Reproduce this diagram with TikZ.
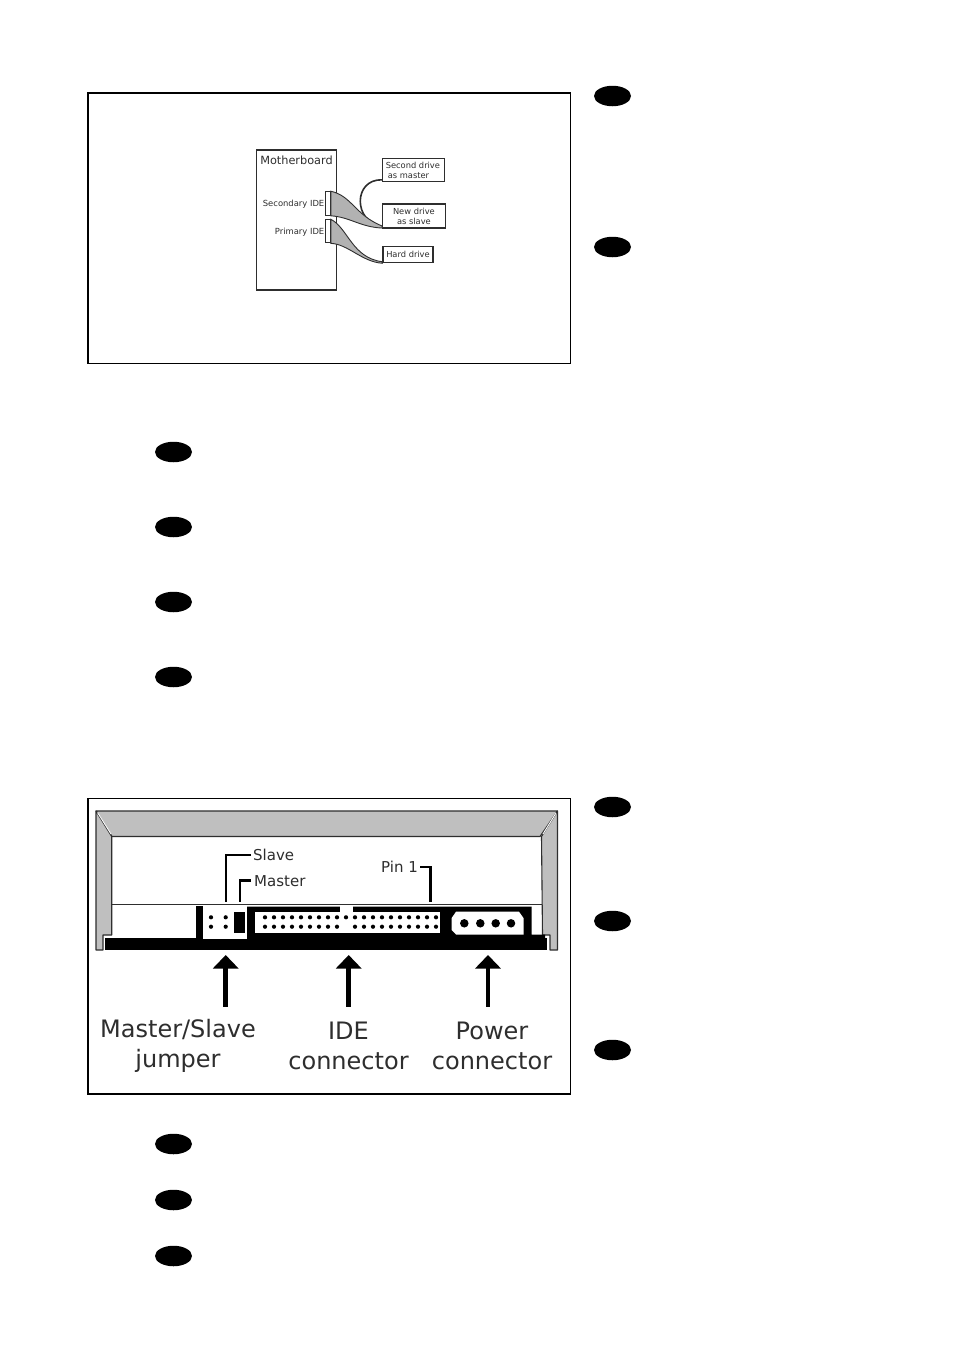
\documentclass[tikz,border=0pt]{standalone}
\usepackage{fontspec}
\setmainfont{DejaVu Sans}
\usetikzlibrary{arrows.meta,shapes.geometric}
\definecolor{ink}{gray}{0.18}
\definecolor{bezel}{gray}{0.75}
\tikzset{
  frame/.style={draw=black,line width=1.1pt,fill=white},
  badge/.style={ellipse,fill=black,draw=none,minimum width=37pt,minimum height=20.5pt,inner sep=0pt},
  boxnode/.style={draw=ink,line width=1.1pt,fill=white,inner sep=0pt,font=\fontsize{8.3}{10}\selectfont,text=ink},
  smalllabel/.style={inner sep=0pt,font=\fontsize{8.4}{10}\selectfont,text=ink},
  portnode/.style={draw=ink,line width=1.1pt,fill=white,inner sep=0pt,minimum width=4.5pt},
  ribbon/.style={draw=ink,line width=0.9pt,fill=black!30},
  cable/.style={draw=ink,line width=1.6pt},
  midlabel/.style={inner sep=0pt,font=\fontsize{15}{18}\selectfont,text=ink},
  biglabel/.style={inner sep=0pt,align=center,font=\fontsize{24}{29.5}\selectfont,text=ink},
  bigarrow/.style={draw=black,line width=4.6pt,-{Triangle[width=25pt,length=13.5pt]},shorten >=0pt},
  leader/.style={draw=black,line width=2.4pt},
  pindot/.style={circle,fill=black,inner sep=0pt,minimum size=4.2pt},
  powerdot/.style={circle,fill=black,inner sep=0pt,minimum size=8.5pt},
  bezelfill/.style={draw=ink,line width=1.1pt,fill=bezel,line join=round}
}
\begin{document}
\begin{tikzpicture}[x=1pt,y=-1pt]
\useasboundingbox (0,0) rectangle (954,1363);
\fill[white] (0,0) rectangle (954,1363);
% ---- first figure
\draw[frame] (88,93) rectangle (570.5,363.5);
\node[boxnode,minimum width=80pt,minimum height=140pt] (mb) at (296.7,220) {};
\node[inner sep=0pt,font=\fontsize{11.3}{13}\selectfont,text=ink] (mbl) at (296.5,160) {Motherboard};
\node[smalllabel,anchor=east] (secl) at (324.5,203.7) {Secondary IDE};
\node[smalllabel,anchor=east] (pril) at (324.5,231.7) {Primary IDE};
\node[boxnode,minimum width=61.5pt,minimum height=23.5pt,align=left] (d2) at (413.4,170) {\hspace*{-1pt}Second drive\\\hspace*{1pt}as master};
\node[boxnode,minimum width=62.5pt,minimum height=24pt,align=center] (dn) at (413.9,216) {New drive\\as slave};
\node[boxnode,minimum width=50pt,minimum height=16pt] (dh) at (408,254.7) {Hard drive};
\node[portnode,minimum height=23.5pt] (ps) at (328,203.5) {};
\node[portnode,minimum height=23pt] (pp) at (328,231.3) {};
\draw[cable] ([yshift=2.5pt]d2.south west) .. controls (353,179) and (353,222) .. ([yshift=2pt]dn.south west);
\draw[ribbon] (ps.north east) .. controls (352,196) and (355,215) .. ([yshift=2.5pt]dn.south west)
  -- ([yshift=0.5pt]dn.south west) .. controls (360,227) and (350,217) .. (ps.south east) -- cycle;
\draw[ribbon] (pp.north east) .. controls (348,228) and (352,258) .. ([yshift=1.5pt]dh.south west)
  -- (dh.south west) .. controls (362,262) and (348,244) .. (pp.south east) -- cycle;
% ---- second figure
\draw[frame] (88,798.5) rectangle (570.5,1094);
% bezel
\draw[bezelfill] (96,811) -- (557.5,811) -- (540,836.5) -- (112,836.5) -- cycle;
\draw[bezelfill] (96,811) -- (111.7,836.5) -- (111.7,935) -- (103,935) -- (103,950) -- (96,950) -- cycle;
\draw[bezelfill] (557.5,811) -- (541.5,836.5) -- (542.5,935) -- (550,935) -- (550,950) -- (557.5,950) -- cycle;
\draw[white,line width=0.9pt] (97.5,812.5) -- (111,834);
\draw[white,line width=0.9pt] (556,813) -- (543,834);
% rear panel
\draw[ink,line width=1.3pt] (111.7,904.3) -- (542,904.3);
\fill[black] (105,938) rectangle (546.7,950);
\fill[black] (195.7,906) rectangle (202.5,938);
\fill[black] (246,906.5) -- (531.7,906.5) -- (531.7,934.5) -- (545,934.5) -- (545,938) -- (246,939) -- cycle;
% jumper block
\fill[white] (202.5,906) rectangle (246.5,939);
\fill[black] (234.3,911.7) rectangle (245,933.3);
\foreach \xx in {211,225.7} \foreach \yy in {917.3,926.7} \node[pindot] at (\xx,\yy) {};
% IDE connector
\fill[white] (255,911.7) rectangle (440,933.3);
\fill[white] (340,905) rectangle (353,911.7);
\foreach \i in {0,...,19} {
  \pgfmathsetmacro{\px}{265+\i*9}
  \node[pindot] at (\px,917.3) {};
  \ifnum\i=9 \else \node[pindot] at (\px,926.7) {}; \fi
}
% power connector
\fill[white] (451.7,918) -- (456,911.7) -- (519,911.7) -- (523.5,918) -- (523.5,934.5) -- (456,934.5) -- (451.7,930) -- cycle;
\foreach \xx in {464.3,480.3,495.7,511} \node[powerdot] at (\xx,923.3) {};
% leaders
\node[midlabel,anchor=west] (slave) at (253,855) {Slave};
\node[midlabel,anchor=west] (master) at (254,881) {Master};
\node[midlabel,anchor=east] (pin) at (418,867) {Pin 1};
\coordinate (slaveend) at (225.7,901.5);
\coordinate (masterend) at (240,901.5);
\coordinate (pinend) at (430.5,901.5);
\draw[leader] ([xshift=-2pt]slave.west) -| (slaveend);
\draw[leader] ([xshift=-3pt,yshift=0.5pt]master.west) -| (masterend);
\draw[leader] ([xshift=2pt]pin.east) -| (pinend);
% bottom labels
\node[biglabel] (lj) at (178,1046) {Master/Slave\\jumper};
\node[biglabel] (li) at (348.5,1046) {IDE\\connector};
\node[biglabel] (lp) at (492,1046) {Power\\connector};
\coordinate (aj) at (225.7,1006.7);
\coordinate (ai) at (348.7,1006.7);
\coordinate (ap) at (488,1006.7);
\coordinate (tj) at (225.7,955);
\coordinate (ti) at (348.7,955);
\coordinate (tp) at (488,955);
\draw[bigarrow] (aj) -- (tj);
\draw[bigarrow] (ai) -- (ti);
\draw[bigarrow] (ap) -- (tp);
% badges
\foreach \n/\xx/\yy in {a/612.5/96,b/612.5/247,c/173.5/452,d/173.5/527,e/173.5/602,f/173.5/677,g/612.5/807,h/612.5/921,i/612.5/1050,j/173.5/1144,k/173.5/1200,l/173.5/1256}
  \node[badge] (badge\n) at (\xx,\yy) {};
\end{tikzpicture}
\end{document}
